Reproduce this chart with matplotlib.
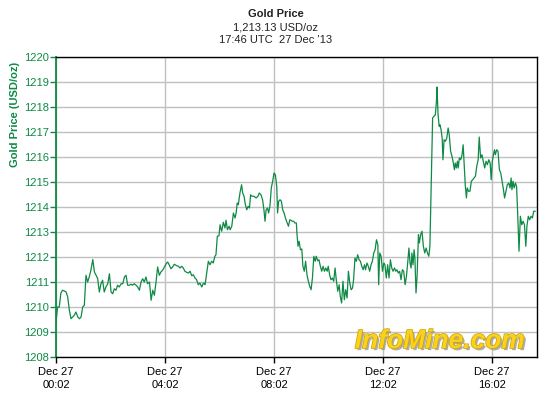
import matplotlib
matplotlib.use("Agg")
import matplotlib.pyplot as plt
import matplotlib.patheffects as pe

# hours after 00:02 UTC, 27 Dec 2013
hours_a = [0.00, 0.06, 0.12, 0.18, 0.24, 0.31, 0.37, 0.43, 0.49, 0.55, 0.61, 0.67, 0.73, 0.80,
           0.86, 0.92, 0.98, 1.04, 1.10, 1.16, 1.22, 1.28, 1.35, 1.41, 1.47, 1.53, 1.59, 1.65,
           1.71, 1.77, 1.83, 1.90, 1.96, 2.02, 2.08, 2.14, 2.20, 2.26, 2.32, 2.39, 2.45, 2.51,
           2.57, 2.63, 2.69, 2.75, 2.81, 2.87, 2.94, 3.00, 3.06, 3.12, 3.18, 3.24, 3.30, 3.36,
           3.43, 3.49, 3.55, 3.61, 3.67, 3.73, 3.79, 3.85, 3.91, 3.98, 4.04, 4.10, 4.16, 4.22,
           4.28, 4.34]
price_a = [1209.40, 1210.00, 1210.00, 1210.56, 1210.67, 1210.64, 1210.60, 1210.40, 1209.87,
           1209.53, 1209.60, 1209.67, 1209.80, 1209.60, 1209.53, 1209.60, 1210.00, 1210.07,
           1211.27, 1211.00, 1211.20, 1211.47, 1211.90, 1211.40, 1211.27, 1211.13, 1210.60,
           1210.93, 1211.07, 1210.60, 1210.80, 1210.93, 1211.33, 1210.60, 1210.53, 1210.73,
           1210.67, 1210.87, 1210.80, 1210.93, 1210.93, 1211.20, 1211.27, 1210.87, 1210.87,
           1210.91, 1210.87, 1210.93, 1210.87, 1210.80, 1210.67, 1211.00, 1211.13, 1211.00,
           1211.20, 1210.93, 1211.00, 1210.27, 1210.67, 1210.47, 1211.00, 1211.60, 1211.27,
           1211.40, 1211.47, 1211.60, 1211.73, 1211.80, 1211.67, 1211.53, 1211.60, 1211.71]

hours_b = [4.43, 4.49, 4.55, 4.61, 4.67, 4.73, 4.79, 4.86, 4.92, 4.98, 5.04, 5.10, 5.16, 5.22,
           5.28, 5.35, 5.41, 5.47, 5.53, 5.59, 5.65, 5.71, 5.77, 5.83, 5.87, 5.92, 5.98, 6.02,
           6.08, 6.14, 6.20, 6.24, 6.29, 6.35, 6.39, 6.45, 6.51, 6.57, 6.61, 6.65, 6.69, 6.75,
           6.81, 6.85, 6.90, 6.95, 7.00, 7.05, 7.10, 7.14, 7.19, 7.27, 7.34, 7.41, 7.46, 7.52,
           7.58, 7.63, 7.67, 7.71, 7.76, 7.80, 7.85, 7.90, 7.95, 8.00, 8.05, 8.10, 8.13, 8.17,
           8.22, 8.27, 8.32, 8.37, 8.42, 8.46, 8.53]
price_b = [1211.65, 1211.63, 1211.56, 1211.63, 1211.56, 1211.43, 1211.39, 1211.36, 1211.43,
           1211.25, 1211.29, 1211.16, 1211.09, 1210.89, 1210.96, 1210.80, 1210.96, 1210.89,
           1211.36, 1211.83, 1211.69, 1211.83, 1211.76, 1212.03, 1212.09, 1212.83, 1212.85,
           1213.29, 1213.03, 1213.39, 1213.16, 1213.47, 1213.09, 1213.23, 1213.09, 1213.23,
           1213.76, 1213.56, 1213.76, 1214.16, 1214.09, 1214.56, 1214.89, 1214.56, 1214.43,
           1214.09, 1213.89, 1214.03, 1213.96, 1214.49, 1214.43, 1214.43, 1214.36, 1214.43,
           1214.56, 1214.49, 1214.29, 1213.89, 1213.43, 1213.89, 1213.96, 1213.76, 1214.03,
           1214.76, 1215.03, 1215.36, 1215.29, 1214.83, 1213.76, 1214.23, 1214.29, 1214.23,
           1213.89, 1213.76, 1213.56, 1213.43, 1213.23]

hours_c = [8.58, 8.62, 8.67, 8.72, 8.77, 8.82, 8.84, 8.88, 8.92, 8.97, 9.02, 9.06, 9.11, 9.16,
           9.21, 9.26, 9.31, 9.36, 9.41, 9.46, 9.51, 9.55, 9.60, 9.65, 9.70, 9.75, 9.80, 9.85,
           9.90, 9.95, 9.99, 10.04, 10.09, 10.14, 10.19, 10.24, 10.29, 10.34, 10.39, 10.43,
           10.48, 10.53, 10.58, 10.63, 10.68, 10.73, 10.78, 10.83, 10.88, 10.92, 10.97, 11.02,
           11.07, 11.12, 11.17, 11.22, 11.27, 11.32, 11.36, 11.41, 11.46, 11.51, 11.56, 11.61,
           11.66, 11.71, 11.76, 11.81, 11.84, 11.88, 11.93, 11.98, 12.03, 12.07, 12.12, 12.17,
           12.22, 12.27, 12.32, 12.37, 12.42, 12.47, 12.51, 12.56, 12.61, 12.66, 12.71, 12.76,
           12.81, 12.86, 12.91, 12.95, 12.99, 13.03, 13.06, 13.10, 13.14, 13.17, 13.21, 13.25]
price_c = [1213.49, 1213.47, 1213.43, 1213.43, 1213.36, 1213.36, 1212.96, 1212.43, 1212.63,
           1212.29, 1212.32, 1211.63, 1211.43, 1211.83, 1211.29, 1211.03, 1210.83, 1210.69,
           1211.16, 1212.03, 1211.83, 1212.03, 1211.85, 1211.89, 1211.63, 1211.43, 1211.63,
           1211.43, 1211.56, 1211.43, 1211.63, 1211.29, 1211.09, 1211.16, 1211.03, 1211.56,
           1211.03, 1210.63, 1210.89, 1210.43, 1210.16, 1211.03, 1210.29, 1210.69, 1210.36,
           1211.43, 1210.96, 1210.69, 1210.76, 1211.09, 1211.96, 1211.83, 1212.09, 1211.89,
           1211.83, 1211.63, 1211.49, 1211.69, 1211.49, 1211.76, 1211.63, 1211.43, 1211.69,
           1211.83, 1212.16, 1212.29, 1212.69, 1212.49, 1210.89, 1212.16, 1212.03, 1211.43,
           1211.76, 1211.69, 1211.16, 1211.69, 1211.16, 1211.89, 1211.56, 1211.43, 1211.56,
           1211.43, 1211.49, 1211.36, 1211.43, 1211.09, 1211.49, 1211.43, 1210.89, 1211.23,
           1211.83, 1212.36, 1211.76, 1211.56, 1212.16, 1211.69, 1212.29, 1211.96, 1210.56,
           1211.23]

hours_d = [13.30, 13.33, 13.38, 13.43, 13.48, 13.53, 13.58, 13.63, 13.68, 13.72, 13.77, 13.82,
           13.87, 13.92, 13.96, 13.98, 14.02, 14.06, 14.09, 14.13, 14.17, 14.20, 14.24, 14.29,
           14.34, 14.39, 14.43, 14.48, 14.53, 14.58, 14.62, 14.65, 14.69, 14.73, 14.76, 14.80,
           14.85, 14.90, 14.94, 14.98, 15.02, 15.06, 15.09, 15.14, 15.19, 15.24, 15.29, 15.34,
           15.39, 15.44, 15.49, 15.53, 15.58, 15.63, 15.68, 15.73, 15.78, 15.83, 15.88, 15.93,
           15.97, 16.01, 16.05, 16.09, 16.12, 16.17, 16.22, 16.27, 16.32, 16.37, 16.42, 16.46,
           16.51, 16.56, 16.61, 16.66, 16.70, 16.73, 16.77, 16.81, 16.86, 16.90, 16.94, 16.99,
           17.04, 17.09, 17.14, 17.19, 17.24, 17.28, 17.33, 17.38, 17.43, 17.48, 17.53, 17.58]
price_d = [1212.89, 1212.56, 1212.89, 1213.03, 1212.43, 1212.16, 1212.36, 1212.16, 1212.03,
           1212.43, 1215.09, 1217.56, 1217.63, 1217.69, 1218.23, 1218.80, 1217.69, 1217.23,
           1217.29, 1217.09, 1216.76, 1215.89, 1216.69, 1216.63, 1216.76, 1217.16, 1216.89,
           1216.23, 1216.03, 1215.76, 1215.49, 1215.76, 1215.56, 1215.83, 1215.56, 1215.96,
           1215.89, 1216.09, 1216.49, 1215.63, 1214.83, 1214.36, 1214.76, 1214.63, 1214.63,
           1215.03, 1215.09, 1215.16, 1215.23, 1215.63, 1215.89, 1216.80, 1215.96, 1216.09,
           1215.83, 1215.56, 1215.83, 1215.69, 1215.89, 1215.76, 1215.09, 1215.83, 1216.09,
           1216.29, 1216.09, 1216.29, 1216.23, 1215.49, 1215.36, 1215.03, 1214.69, 1214.36,
           1214.63, 1214.89, 1214.96, 1214.76, 1215.16, 1214.69, 1215.03, 1214.76, 1214.96,
           1214.83, 1213.76, 1212.23, 1213.63, 1213.29, 1213.43, 1213.29, 1212.43, 1213.23,
           1213.63, 1213.49, 1213.63, 1213.56, 1213.83, 1213.83]

tick_hours = [0, 4, 8, 12, 16]
tick_labels = ["Dec 27\n00:02", "Dec 27\n04:02", "Dec 27\n08:02", "Dec 27\n12:02", "Dec 27\n16:02"]
y_ticks = list(range(1208, 1221))

hours = hours_a + hours_b + hours_c + hours_d
price = price_a + price_b + price_c + price_d

GREEN = "#0E8A45"
plt.rcParams["font.family"] = ["Liberation Sans", "DejaVu Sans"]

fig = plt.figure(figsize=(5.51, 3.94), dpi=100)
ax = fig.add_axes([56 / 551, 37 / 394, 481 / 551, 300 / 394])

ax.plot(hours, price, color=GREEN, lw=0.9)

ax.set_xlim(0, 17.65)
ax.set_ylim(1208, 1220)
ax.set_yticks(y_ticks)
ax.set_yticklabels([str(v) for v in y_ticks], color=GREEN, fontsize=8)
ax.set_xticks(tick_hours)
ax.set_xticklabels(tick_labels, fontsize=8, linespacing=1.45)
ax.grid(True, color="#C0C0C0", lw=1.0)
ax.set_axisbelow(True)

ax.tick_params(axis="y", direction="out", length=4, width=1, colors=GREEN, pad=1)
ax.tick_params(axis="x", direction="out", length=4, width=1, color="black", pad=3)
ax.spines["left"].set_color(GREEN)
ax.spines["left"].set_linewidth(1.3)
for s in ["top", "right", "bottom"]:
    ax.spines[s].set_color("black")
    ax.spines[s].set_linewidth(1.0)

ax.set_ylabel("Gold Price (USD/oz)", color=GREEN, fontsize=8, fontweight="bold")
ax.yaxis.set_label_coords(-0.075, 0.807)

fig.text(0.5, 1 - 14 / 394, "Gold Price", ha="center", va="center", fontsize=8, fontweight="bold", color="#222222")
fig.text(0.5, 1 - 27 / 394, "1,213.13 USD/oz", ha="center", va="center", fontsize=8, color="#222222")
fig.text(0.5, 1 - 40 / 394, "17:46 UTC  27 Dec '13", ha="center", va="center", fontsize=8, color="#222222")

ax.text(0.798, 0.053, "InfoMine.com", transform=ax.transAxes, ha="center", va="center",
        fontsize=19, fontweight="bold", fontstyle="italic", color="#F8D21C",
        path_effects=[pe.withSimplePatchShadow(offset=(1.5, -1.5), shadow_rgbFace="#999999", alpha=0.8),
                      pe.Stroke(linewidth=1.0, foreground="#D0A000"), pe.Normal()])

fig.savefig("out.png", dpi=100)
